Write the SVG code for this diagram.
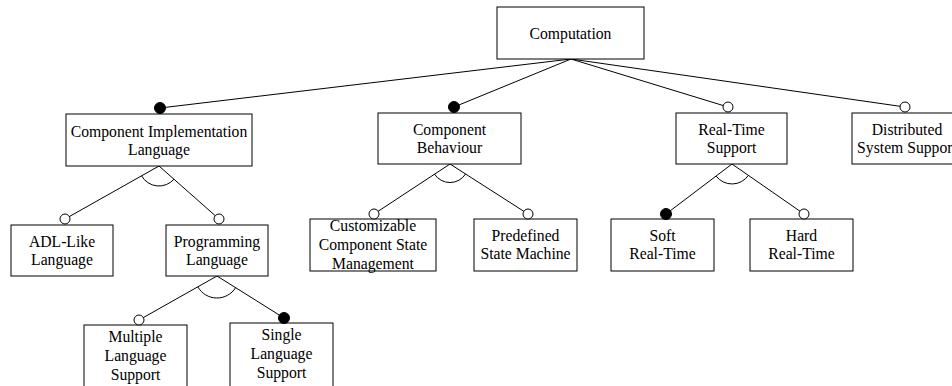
<svg xmlns="http://www.w3.org/2000/svg" width="952" height="386" viewBox="0 0 952 386">
  <style>
    .box { fill: #fff; stroke: #000; stroke-width: 1; }
    .edge { fill: none; stroke: #000; stroke-width: 1; }
    .opt { fill: #fff; stroke: #000; stroke-width: 1; }
    .man { fill: #000; stroke: #000; stroke-width: 1; }
    .lbl { font-family: 'Liberation Serif', 'DejaVu Serif', serif; font-size: 15.7px; fill: #000; text-anchor: middle; }
  </style>
  <rect width="952" height="386" fill="#fff"/>

  <!-- connectors -->
  <g id="connectors">
    <path class="edge" d="M571 59 L160 108"/>
    <path class="edge" d="M571 59 L454 107"/>
    <path class="edge" d="M571 59 L728 107"/>
    <path class="edge" d="M571 59 L905 107"/>

    <path class="edge" d="M159 166 L65 219"/>
    <path class="edge" d="M159 166 L219 219"/>
    <path class="edge" d="M141.5 175.7 A20 20 0 0 0 174.1 179.1"/>

    <path class="edge" d="M217 276 L139 320"/>
    <path class="edge" d="M217 276 L284 318"/>
    <path class="edge" d="M197.9 287 A22 22 0 0 0 235.6 287.7"/>

    <path class="edge" d="M450 164 L374 214"/>
    <path class="edge" d="M450 164 L528 214"/>
    <path class="edge" d="M434.4 174 A18.5 18.5 0 0 0 465.7 173.8"/>

    <path class="edge" d="M732 164 L666 214"/>
    <path class="edge" d="M732 164 L804 214"/>
    <path class="edge" d="M716.1 176.1 A20 20 0 0 0 748.4 175.4"/>
  </g>

  <g class="lbl" font-family="Liberation Serif, DejaVu Serif, serif">
  <g id="computation">
    <rect class="box" x="497" y="7" width="147" height="52"/>
    <text x="570.5" y="38.5">Computation</text>
  </g>

  <g id="component-implementation-language">
    <rect class="box" x="66" y="114" width="186" height="52"/>
    <circle class="man" cx="160" cy="108" r="5.5"/>
    <text x="159" y="136.5">Component Implementation</text>
    <text x="159" y="154.5">Language</text>
  </g>

  <g id="component-behaviour">
    <rect class="box" x="378" y="113" width="143" height="51"/>
    <circle class="man" cx="454" cy="107" r="5.5"/>
    <text x="449.5" y="135">Component</text>
    <text x="449.5" y="153">Behaviour</text>
  </g>

  <g id="real-time-support">
    <rect class="box" x="676" y="113" width="111" height="51"/>
    <circle class="opt" cx="728" cy="107" r="5"/>
    <text x="731.5" y="135">Real-Time</text>
    <text x="731.5" y="153">Support</text>
  </g>

  <g id="distributed-system-support">
    <rect class="box" x="852" y="113" width="110" height="51"/>
    <circle class="opt" cx="905" cy="107" r="5"/>
    <text x="907" y="135">Distributed</text>
    <text x="907" y="153">System Support</text>
  </g>

  <g id="adl-like-language">
    <rect class="box" x="11" y="225" width="102" height="51"/>
    <circle class="opt" cx="65" cy="219" r="5"/>
    <text x="62" y="247">ADL-Like</text>
    <text x="62" y="265">Language</text>
  </g>

  <g id="programming-language">
    <rect class="box" x="166" y="225" width="102" height="51"/>
    <circle class="opt" cx="219" cy="219" r="5"/>
    <text x="217" y="247">Programming</text>
    <text x="217" y="265">Language</text>
  </g>

  <g id="customizable-component-state-management">
    <rect class="box" x="310" y="219" width="126" height="52"/>
    <circle class="opt" cx="374" cy="214" r="5"/>
    <text x="373" y="231">Customizable</text>
    <text x="373" y="250">Component State</text>
    <text x="373" y="268.5">Management</text>
  </g>

  <g id="predefined-state-machine">
    <rect class="box" x="474" y="219" width="103" height="52"/>
    <circle class="opt" cx="528" cy="214" r="5"/>
    <text x="525.5" y="241">Predefined</text>
    <text x="525.5" y="259">State Machine</text>
  </g>

  <g id="soft-real-time">
    <rect class="box" x="611" y="219" width="103" height="52"/>
    <circle class="man" cx="666" cy="214" r="5.5"/>
    <text x="662.5" y="241">Soft</text>
    <text x="662.5" y="259">Real-Time</text>
  </g>

  <g id="hard-real-time">
    <rect class="box" x="750" y="219" width="103" height="52"/>
    <circle class="opt" cx="804" cy="214" r="5"/>
    <text x="801.5" y="241">Hard</text>
    <text x="801.5" y="259">Real-Time</text>
  </g>

  <g id="multiple-language-support">
    <rect class="box" x="84" y="325" width="103" height="70"/>
    <circle class="opt" cx="139" cy="320" r="5"/>
    <text x="135.5" y="342">Multiple</text>
    <text x="135.5" y="361">Language</text>
    <text x="135.5" y="380">Support</text>
  </g>

  <g id="single-language-support">
    <rect class="box" x="230" y="323" width="103" height="70"/>
    <circle class="man" cx="284" cy="318" r="5.5"/>
    <text x="281.5" y="340">Single</text>
    <text x="281.5" y="359">Language</text>
    <text x="281.5" y="378">Support</text>
  </g>
  </g>
</svg>
